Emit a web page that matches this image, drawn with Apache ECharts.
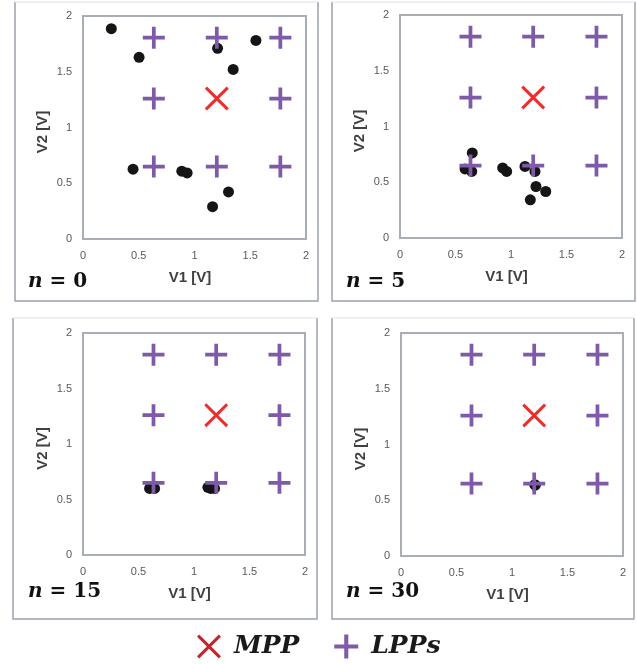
<!DOCTYPE html>
<html><head><meta charset="utf-8">
<script src="https://cdn.jsdelivr.net/npm/echarts@6/dist/echarts.min.js"></script>
<style>html,body{margin:0;padding:0;background:#fff}#c{width:637px;height:664px}</style>
</head><body><div id="c"></div>
<script>
// ---- data ----
const panelLabels = ['0', '5', '15', '30'];
const axisTicks = [0, 0.5, 1, 1.5, 2];
const lppX = [0.635, 1.2, 1.77];
const lppY = [0.65, 1.26, 1.805];
const mppX = [1.2];
const mppY = [1.26];
const n0X = [0.254, 0.503, 1.207, 1.551, 1.347, 0.449, 0.886, 0.934, 1.305, 1.162];
const n0Y = [1.886, 1.629, 1.710, 1.781, 1.521, 0.626, 0.608, 0.593, 0.422, 0.290];
const n5X = [0.651, 0.586, 0.646, 0.925, 0.961, 1.126, 1.216, 1.225, 1.313, 1.174];
const n5Y = [0.763, 0.619, 0.597, 0.628, 0.597, 0.642, 0.597, 0.462, 0.417, 0.342];
const n15X = [0.600, 0.625, 0.645, 1.125, 1.150, 1.170, 1.185];
const n15Y = [0.600, 0.610, 0.600, 0.610, 0.600, 0.612, 0.600];
const n30X = [1.205, 1.21];
const n30Y = [0.64, 0.635];

const dotsX = [n0X, n5X, n15X, n30X];
const dotsY = [n0Y, n5Y, n15Y, n30Y];

// ---- styling ----
const PURPLE = '#7f5aa8';
const RED = '#ee2d2d';
const LEGEND_RED = '#c4262d';
const PLUS = 'path://M-1.7,-10H1.7V-1.7H10V1.7H1.7V10H-1.7V1.7H-10V-1.7H-1.7Z';
const CROSS = 'path://M-10,-8.2L-8.2,-10L0,-1.8L8.2,-10L10,-8.2L1.8,0L10,8.2L8.2,10L0,1.8L-8.2,10L-10,8.2L-1.8,0Z';

const grids = [
  {left: 83, top: 16, width: 223, height: 223},
  {left: 400, top: 15, width: 222, height: 223},
  {left: 83, top: 333, width: 222, height: 222},
  {left: 401, top: 333, width: 222, height: 223}
];
const frames = [
  [15, 318, 2, 301],
  [332, 635, 2, 301],
  [13, 317, 318, 619],
  [332, 634, 318, 619]
];
const labelPos = [[28, 282], [346, 282], [28, 592], [346, 592]];

const zip = (xs, ys) => xs.map((x, i) => [x, ys[i]]);
const gridPts = () => { const p = []; lppY.forEach(y => lppX.forEach(x => { if (!(x === mppX[0] && y === mppY[0])) p.push([x, y]); })); return p; };

const xAxis = [], yAxis = [], series = [], graphic = [];
grids.forEach((g, i) => {
  const common = {
    gridIndex: i, type: 'value', min: 0, max: 2, interval: 0.5,
    axisLine: {show: false}, axisTick: {show: false}, splitLine: {show: false},
    axisLabel: {color: '#595959', fontSize: 11, fontFamily: 'Liberation Sans', margin: 11},
    nameLocation: 'middle'
  };
  const nameStyle = {color: '#404040', fontSize: 15, fontWeight: 'bold', fontFamily: 'Liberation Sans', padding: [0, 9, 0, 0]};
  xAxis.push(Object.assign({}, common, {name: 'V1 [V]', nameGap: 31, nameTextStyle: nameStyle}));
  yAxis.push(Object.assign({}, common, {name: 'V2 [V]', nameGap: 33, nameTextStyle: nameStyle}));
  series.push({
    type: 'scatter', name: 'dots', xAxisIndex: i, yAxisIndex: i,
    data: zip(dotsX[i], dotsY[i]), symbol: 'circle', symbolSize: 11,
    itemStyle: {color: '#151515', opacity: 1}, z: 2, silent: true
  });
  series.push({
    type: 'scatter', name: 'LPPs', xAxisIndex: i, yAxisIndex: i,
    data: gridPts(), symbol: PLUS, symbolSize: 22,
    itemStyle: {color: PURPLE, opacity: 1}, z: 3, silent: true
  });
  series.push({
    type: 'scatter', name: 'MPP', xAxisIndex: i, yAxisIndex: i,
    data: zip(mppX, mppY), symbol: CROSS, symbolSize: 24,
    itemStyle: {color: RED, opacity: 1}, z: 4, silent: true
  });
  const f = frames[i];
  graphic.push({type: 'polyline', silent: true, shape: {points: [[f[0], f[2]], [f[0], f[3]], [f[1], f[3]], [f[1], f[2]]]},
    style: {stroke: '#9ca3ad', lineWidth: 1.5, fill: null}});
  graphic.push({type: 'line', silent: true, shape: {x1: f[0], y1: f[2], x2: f[1], y2: f[2]},
    style: {stroke: '#dcdfe3', lineWidth: 1}});
  const lp = labelPos[i];
  graphic.push({type: 'text', silent: true, x: lp[0], y: lp[1],
    style: {
      text: '{i|n }{b|= ' + panelLabels[i] + '}', verticalAlign: 'middle', align: 'left',
      rich: {
        i: {fontFamily: 'DejaVu Serif', fontStyle: 'italic', fontWeight: 'bold', fontSize: 20, fill: '#111'},
        b: {fontFamily: 'DejaVu Serif', fontWeight: 'bold', fontSize: 20, fill: '#111'}
      }
    }});
});

const chart = echarts.init(document.getElementById('c'), null, {renderer: 'canvas'});
chart.setOption({
  animation: false,
  backgroundColor: '#ffffff',
  grid: grids.map(g => Object.assign({show: true, borderColor: '#a9aeb5', borderWidth: 2, backgroundColor: 'transparent'}, g)),
  xAxis: xAxis,
  yAxis: yAxis,
  legend: {
    left: 192, top: 629, itemGap: 35, itemWidth: 24, itemHeight: 24, selectedMode: false,
    data: [
      {name: 'MPP', icon: CROSS, itemStyle: {color: LEGEND_RED}},
      {name: 'LPPs', icon: PLUS, itemStyle: {color: PURPLE}}
    ],
    textStyle: {fontFamily: 'DejaVu Serif', fontStyle: 'italic', fontWeight: 'bold', fontSize: 25, color: '#1a1a1a', padding: [0, 0, 0, 8]}
  },
  series: series,
  graphic: graphic
});
</script></body></html>
